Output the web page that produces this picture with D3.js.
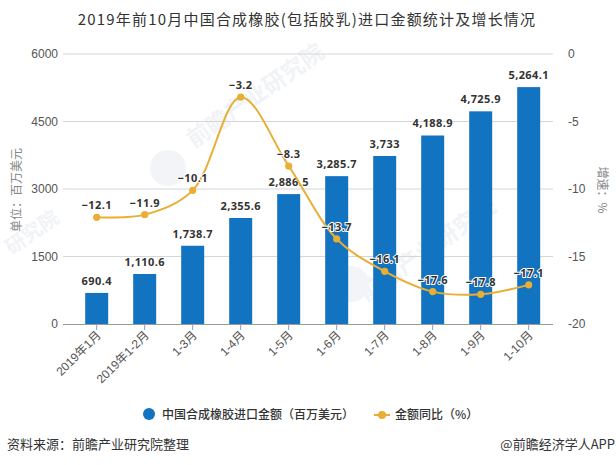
<!DOCTYPE html>
<html lang="zh">
<head>
<meta charset="utf-8">
<title>Chart</title>
<script src="https://d3js.org/d3.v7.min.js"></script>
<style>
  html, body { margin: 0; padding: 0; background: #fff; }
  svg { display: block; }
  text { font-family: "Noto Sans CJK SC", "Noto Sans", sans-serif; }
  .val { font-family: "Noto Sans", sans-serif; font-size: 11px; font-weight: bold; fill: #333; text-anchor: middle; letter-spacing: 0.4px; }
</style>
</head>
<body>
<script>
var w = 616, h = 465;
var categories = ["2019年1月", "2019年1-2月", "1-3月", "1-4月", "1-5月", "1-6月", "1-7月", "1-8月", "1-9月", "1-10月"];
var amounts = [690.4, 1110.6, 1738.7, 2355.6, 2886.5, 3285.7, 3733, 4188.9, 4725.9, 5264.1];
var amountLabels = ["690.4", "1,110.6", "1,738.7", "2,355.6", "2,886.5", "3,285.7", "3,733", "4,188.9", "4,725.9", "5,264.1"];
var growth = [-12.1, -11.9, -10.1, -3.2, -8.3, -13.7, -16.1, -17.6, -17.8, -17.1];
var leftTicks = [0, 1500, 3000, 4500, 6000];
var rightTicks = [0, -5, -10, -15, -20];
var watermarks = [["前瞻产业研究院", 260, 102, 23], ["前瞻产业研究院", 432, 256, 23], ["研究院", 36, 238, 20]];
var logos = [[168, 168], [351, 284]];

var svg = d3.select("body").append("svg").attr("width", w).attr("height", h);

var x = d3.scaleBand().domain(categories).range([72.7, 552.7]);
var yl = d3.scaleLinear().domain([0, 6000]).range([324, 54]);
var yr = d3.scaleLinear().domain([-20, 0]).range([324, 54]);
var cx = function(d) { return x(d) + x.bandwidth() / 2; };

// watermark goes first, the marks sit on top of it
svg.selectAll(".wm").data(watermarks).enter().append("text")
  .attr("transform", function(d) { return "translate(" + d[1] + "," + d[2] + ") rotate(-35)"; })
  .attr("text-anchor", "middle")
  .attr("font-size", function(d) { return d[3]; })
  .attr("font-weight", "bold")
  .attr("fill", "#f1f3f6")
  .text(function(d) { return d[0]; });
svg.selectAll(".logo").data(logos).enter().append("circle")
  .attr("cx", function(d) { return d[0]; })
  .attr("cy", function(d) { return d[1]; })
  .attr("r", 18)
  .attr("fill", "#f3f4f7");

// grid
svg.selectAll(".grid").data(leftTicks.slice(1)).enter().append("line")
  .attr("x1", 63).attr("x2", 553)
  .attr("y1", function(d) { return yl(d); }).attr("y2", function(d) { return yl(d); })
  .attr("stroke", "#d4d6da").attr("stroke-width", 1);

// left axis
var gl = svg.append("g").attr("transform", "translate(63,0)")
  .call(d3.axisLeft(yl).tickValues(leftTicks).tickFormat(d3.format("d")).tickSize(0).tickPadding(5));
gl.select(".domain").remove();
gl.selectAll("text").attr("font-size", 12).attr("fill", "#555")
  .style("font-family", "'Liberation Sans', sans-serif");

// right axis
var gr = svg.append("g").attr("transform", "translate(553,0)")
  .call(d3.axisRight(yr).tickValues(rightTicks).tickFormat(function(d) { return String(d); }).tickSize(0).tickPadding(15));
gr.select(".domain").remove();
gr.selectAll("text").attr("font-size", 12).attr("fill", "#555")
  .style("font-family", "'Liberation Sans', sans-serif");

// bars
svg.selectAll(".bar").data(categories).enter().append("rect")
  .attr("x", function(d) { return cx(d) - 11.5; })
  .attr("width", 23)
  .attr("y", function(d, i) { return yl(amounts[i]); })
  .attr("height", function(d, i) { return 324 - yl(amounts[i]); })
  .attr("fill", "#1273c0");

// bottom axis
var gb = svg.append("g").attr("transform", "translate(0,324)")
  .call(d3.axisBottom(x).tickSize(6));
gb.select(".domain").remove();
gb.selectAll(".tick line").attr("stroke", "#999");
gb.selectAll("text")
  .attr("font-size", 12).attr("fill", "#555")
  .attr("text-anchor", "end")
  .attr("x", 0).attr("y", 0).attr("dy", 0)
  .attr("transform", "translate(5,12) rotate(-45)")
  .style("font-family", "'Liberation Sans', 'Noto Sans CJK SC', sans-serif");
svg.append("line").attr("x1", 63).attr("x2", 553).attr("y1", 324.5).attr("y2", 324.5)
  .attr("stroke", "#999").attr("stroke-width", 1);

// bar labels
svg.selectAll(".barlab").data(categories).enter().append("text")
  .attr("class", "val")
  .attr("x", cx)
  .attr("y", function(d, i) { return yl(amounts[i]) - 8; })
  .text(function(d, i) { return amountLabels[i]; });

// growth line
var line = d3.line()
  .x(function(d, i) { return cx(categories[i]); })
  .y(function(d) { return yr(d); })
  .curve(d3.curveCatmullRom.alpha(0.5));
svg.append("path").datum(growth)
  .attr("d", line).attr("fill", "none")
  .attr("stroke", "#e9ae34").attr("stroke-width", 2);
svg.selectAll(".dot").data(growth).enter().append("circle")
  .attr("cx", function(d, i) { return cx(categories[i]); })
  .attr("cy", function(d) { return yr(d); })
  .attr("r", 3.6).attr("fill", "#e9ae34");
svg.selectAll(".linelab").data(growth).enter().append("text")
  .attr("class", "val")
  .attr("x", function(d, i) { return cx(categories[i]); })
  .attr("y", function(d) { return yr(d) - 8; })
  .attr("stroke", "#fff").attr("stroke-width", 2).attr("paint-order", "stroke")
  .text(function(d) { return "\u2212" + Math.abs(d); });

// titles
svg.append("text").attr("x", 307).attr("y", 25).attr("text-anchor", "middle")
  .attr("font-size", 15).attr("letter-spacing", 1.2).attr("fill", "#333")
  .text("2019年前10月中国合成橡胶(包括胶乳)进口金额统计及增长情况");
svg.append("text").attr("transform", "translate(21,190) rotate(-90)").attr("text-anchor", "middle")
  .attr("font-size", 12).attr("fill", "#888").text("单位：百万美元");
svg.append("text").attr("transform", "translate(598,190) rotate(90)").attr("text-anchor", "middle")
  .attr("font-size", 12).attr("fill", "#888").text("增速：%");

// legend
svg.append("circle").attr("cx", 149).attr("cy", 414).attr("r", 6).attr("fill", "#1273c0");
svg.append("text").attr("x", 162).attr("y", 418.5).attr("font-size", 12).attr("font-weight", 500)
  .attr("fill", "#333").text("中国合成橡胶进口金额（百万美元）");
svg.append("line").attr("x1", 374).attr("x2", 390).attr("y1", 415).attr("y2", 415)
  .attr("stroke", "#e9ae34").attr("stroke-width", 2);
svg.append("circle").attr("cx", 382).attr("cy", 415).attr("r", 4).attr("fill", "#e9ae34");
svg.append("text").attr("x", 395).attr("y", 418.5).attr("font-size", 12).attr("font-weight", 500)
  .attr("fill", "#333").text("金额同比（%）");

// footer
svg.append("text").attr("x", 7).attr("y", 449).attr("font-size", 13).attr("fill", "#333")
  .text("资料来源：前瞻产业研究院整理");
svg.append("text").attr("x", 615).attr("y", 449).attr("text-anchor", "end")
  .attr("font-size", 13).attr("fill", "#333").text("@前瞻经济学人APP");
</script>
</body>
</html>
